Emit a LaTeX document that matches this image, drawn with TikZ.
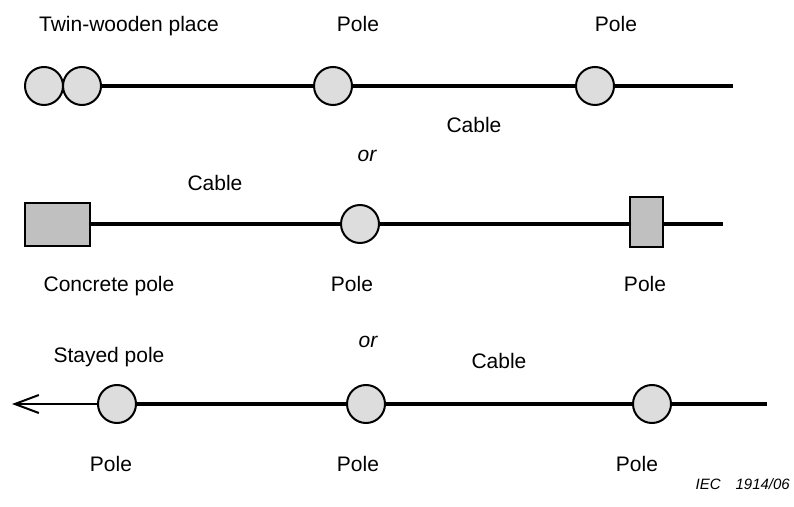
\documentclass[tikz,border=0pt]{standalone}
\usepackage{fontspec}
\setmainfont{Liberation Sans}
\usetikzlibrary{arrows.meta}
\definecolor{polefill}{HTML}{DDDDDD}
\definecolor{boxfill}{HTML}{C0C0C0}
\begin{document}
\begin{tikzpicture}[x=1bp,y=-1bp,
  pole/.style={circle,draw=black,line width=2bp,fill=polefill,minimum size=38bp,inner sep=0pt},
  concrete/.style={rectangle,draw=black,line width=2bp,fill=boxfill,inner sep=0pt},
  cable/.style={line width=4bp},
  stay/.style={line width=2bp,-{Straight Barb[length=24bp,width=18bp,line width=2bp]}},
  lbl/.style={anchor=base,inner sep=0pt,font=\fontsize{21bp}{25bp}\selectfont},
  orlbl/.style={lbl,font=\fontsize{21bp}{25bp}\selectfont\itshape},
  iec/.style={anchor=base,inner sep=0pt,font=\fontsize{15bp}{18bp}\selectfont\itshape}]
\useasboundingbox (0,0) rectangle (794,507);
% Row 1
\node[pole] (tw1) at (44,86) {};
\node[pole] (tw2) at (82,86) {};
\node[pole] (p11) at (333,86) {};
\node[pole] (p12) at (595,86) {};
\coordinate (e1) at (733,86);
\draw[cable] (tw2) -- (p11);
\draw[cable] (p11) -- (p12);
\draw[cable] (p12) -- (e1);
\node[lbl] (ltw) at (129,32) {Twin-wooden place};
\node[lbl] (lp11) at (358,32) {Pole};
\node[lbl] (lp12) at (616,32) {Pole};
\node[lbl] (lc1) at (474,133) {Cable};
\node[orlbl] (or1) at (367,162) {or};
% Row 2
\node[concrete,minimum width=65bp,minimum height=43bp] (sq) at (57.5,224.5) {};
\node[pole] (p21) at (360,224) {};
\node[concrete,minimum width=33bp,minimum height=50bp] (r22) at (646.5,222) {};
\coordinate (e2) at (723,224);
\draw[cable] (sq.east |- p21) -- (p21);
\draw[cable] (p21) -- (r22.west |- p21);
\draw[cable] (r22.east |- e2) -- (e2);
\node[lbl] (lc2) at (215,191) {Cable};
\node[lbl] (lsq) at (109,292) {Concrete pole};
\node[lbl] (lp21) at (352,292) {Pole};
\node[lbl] (lp22) at (645,292) {Pole};
\node[orlbl] (or2) at (368,347) {or};
% Row 3
\coordinate (a3) at (12,404);
\node[pole] (p31) at (117,404) {};
\node[pole] (p32) at (366,404) {};
\node[pole] (p33) at (652,404) {};
\coordinate (e3) at (767,404);
\draw[stay] (p31) -- (a3);
\draw[cable] (p31) -- (p32);
\draw[cable] (p32) -- (p33);
\draw[cable] (p33) -- (e3);
\node[lbl] (lst) at (109,362) {Stayed pole};
\node[lbl] (lc3) at (499,368) {Cable};
\node[lbl] (lp31) at (111,471) {Pole};
\node[lbl] (lp32) at (358,471) {Pole};
\node[lbl] (lp33) at (637,471) {Pole};
\node[iec,anchor=base east] (iec) at (790,489) {IEC\hspace{1em}1914/06};
\end{tikzpicture}
\end{document}
